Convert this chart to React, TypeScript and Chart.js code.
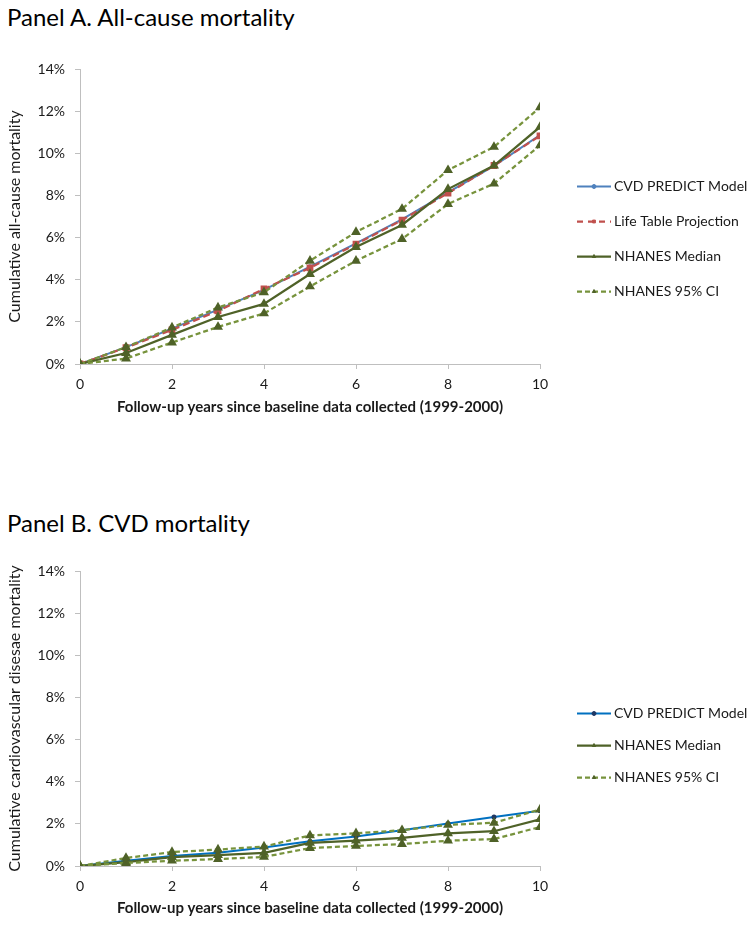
import React, { useEffect, useRef } from 'react';
import { Chart, registerables } from 'chart.js';
import { drawPoint } from 'chart.js/helpers';

Chart.register(...registerables);

// ---------- data ----------
const YEARS = [0, 1, 2, 3, 4, 5, 6, 7, 8, 9, 10];

// Panel A. All-cause mortality (%)
const A_CVD_PREDICT = [0, 0.8, 1.68, 2.58, 3.52, 4.62, 5.72, 6.86, 8.14, 9.4, 10.86];
const A_LIFE_TABLE = [0, 0.78, 1.62, 2.52, 3.56, 4.56, 5.69, 6.83, 8.11, 9.42, 10.83];
const A_NHANES_MEDIAN = [0, 0.52, 1.38, 2.23, 2.85, 4.27, 5.55, 6.6, 8.3, 9.42, 11.25];
const A_NHANES_UPPER = [0, 0.8, 1.73, 2.68, 3.4, 4.9, 6.26, 7.36, 9.2, 10.3, 12.18];
const A_NHANES_LOWER = [0, 0.26, 1.02, 1.76, 2.4, 3.68, 4.9, 5.93, 7.59, 8.56, 10.38];

// Panel B. CVD mortality (%)
const B_CVD_PREDICT = [0, 0.25, 0.47, 0.63, 0.88, 1.17, 1.4, 1.7, 2.02, 2.32, 2.62];
const B_NHANES_MEDIAN = [0, 0.18, 0.42, 0.52, 0.62, 1.1, 1.2, 1.33, 1.55, 1.65, 2.22];
const B_NHANES_UPPER = [0, 0.38, 0.66, 0.78, 0.92, 1.45, 1.55, 1.7, 1.95, 2.05, 2.68];
const B_NHANES_LOWER = [0, 0.14, 0.25, 0.33, 0.43, 0.85, 0.95, 1.04, 1.2, 1.28, 1.85];

const X_MIN = 0;
const X_MAX = 10;
const X_STEP = 2;
const Y_MIN = 0;
const Y_MAX = 14;
const Y_STEP = 2;

const TITLE_A = 'Panel A. All-cause mortality';
const TITLE_B = 'Panel B. CVD mortality';
const X_TITLE = 'Follow-up years since baseline data collected (1999-2000)';
const Y_TITLE_A = 'Cumulative all-cause mortality';
const Y_TITLE_B = 'Cumulative cardiovascular disesae mortality';

const FONT = 'Lato, "Open Sans", sans-serif';
const AXIS_GRAY = '#bfbfbf';
const TEXT = '#1a1a1a';

const toPoints = (vals: number[]) => YEARS.map((x, i) => ({ x, y: vals[i] }));

// ---------- custom legend ----------
const customLegend = {
  id: 'customLegend',
  afterDraw(chart: any, _args: any, opts: any) {
    const { ctx, chartArea } = chart;
    const items = chart.data.datasets.filter((d: any) => !d.hideInLegend);
    const n = items.length;
    const cy0 =
      (chartArea.top + chartArea.bottom) / 2 + opts.offsetY - ((n - 1) * opts.spacing) / 2;
    const x0 = chartArea.right + opts.gapX;
    ctx.save();
    items.forEach((ds: any, i: number) => {
      const y = Math.round(cy0 + i * opts.spacing) + 0.5;
      ctx.beginPath();
      ctx.setLineDash(ds.legendDash || ds.borderDash || []);
      ctx.strokeStyle = ds.borderColor;
      ctx.lineWidth = ds.borderWidth;
      ctx.moveTo(x0, y);
      ctx.lineTo(x0 + opts.lineLength, y);
      ctx.stroke();
      ctx.setLineDash([]);
      ctx.fillStyle = ds.pointBackgroundColor;
      ctx.strokeStyle = ds.pointBorderColor;
      ctx.lineWidth = 1;
      drawPoint(
        ctx,
        { pointStyle: ds.pointStyle, radius: opts.markerRadius, borderWidth: 1, rotation: 0 },
        x0 + opts.lineLength / 2,
        y
      );
      ctx.fillStyle = TEXT;
      ctx.font = `${opts.fontSize}px ${FONT}`;
      ctx.textBaseline = 'middle';
      ctx.textAlign = 'left';
      ctx.fillText(ds.label, x0 + opts.lineLength + opts.textGap, y);
    });
    ctx.restore();
  },
};

function makeOptions(cfg: {
  yTitle: string;
  padTop: number;
  xHeight: number;
  xTitleBottom: number;
  legendSpacing: number;
  legendOffsetY: number;
}) {
  const gridCfg = {
    display: true,
    drawOnChartArea: false,
    drawTicks: true,
    tickLength: 5,
    color: AXIS_GRAY,
    lineWidth: 1,
  };
  return {
    responsive: true,
    maintainAspectRatio: false,
    animation: false as const,
    layout: { padding: { top: cfg.padTop, left: 0, right: 214, bottom: 0 } },
    plugins: {
      legend: { display: false },
      tooltip: { enabled: false },
      customLegend: {
        offsetY: cfg.legendOffsetY,
        spacing: cfg.legendSpacing,
        gapX: 37,
        lineLength: 34,
        textGap: 3,
        markerRadius: 2,
        fontSize: 14,
      },
    },
    scales: {
      x: {
        type: 'linear' as const,
        min: X_MIN,
        max: X_MAX,
        grid: gridCfg,
        border: { display: true, color: AXIS_GRAY, width: 1 },
        ticks: {
          stepSize: X_STEP,
          color: TEXT,
          padding: 7,
          font: { family: FONT, size: 14 },
          maxRotation: 0,
        },
        title: {
          display: true,
          text: X_TITLE,
          color: TEXT,
          font: { family: FONT, size: 15, weight: 'bold' as const },
          padding: { top: 0, bottom: cfg.xTitleBottom },
        },
        afterFit: (s: any) => {
          s.height = cfg.xHeight;
        },
      },
      y: {
        type: 'linear' as const,
        min: Y_MIN,
        max: Y_MAX,
        grid: gridCfg,
        border: { display: true, color: AXIS_GRAY, width: 1 },
        ticks: {
          stepSize: Y_STEP,
          color: TEXT,
          padding: 10,
          font: { family: FONT, size: 14 },
          callback: (v: any) => `${v}%`,
        },
        title: {
          display: true,
          text: cfg.yTitle,
          color: TEXT,
          font: { family: FONT, size: 16 },
          padding: { top: 5, bottom: 0 },
        },
        afterFit: (s: any) => {
          s.width = 80;
        },
      },
    },
  };
}

const ciStyle = (color: string) => ({
  borderColor: color,
  backgroundColor: color,
  pointBackgroundColor: '#4F6228',
  pointBorderColor: '#4F6228',
  borderWidth: 2.25,
  borderDash: [5, 3],
  pointStyle: 'triangle',
  pointRadius: 3.5,
});

function datasetsA() {
  return [
    {
      label: 'CVD PREDICT Model',
      data: toPoints(A_CVD_PREDICT),
      borderColor: '#4F81BD',
      backgroundColor: '#4F81BD',
      pointBackgroundColor: '#4F81BD',
      pointBorderColor: '#4F81BD',
      borderWidth: 2,
      pointStyle: 'circle',
      pointRadius: 1.5,
      order: 5,
    },
    {
      label: 'Life Table Projection',
      data: toPoints(A_LIFE_TABLE),
      borderColor: '#C0504D',
      backgroundColor: '#C0504D',
      pointBackgroundColor: '#C0504D',
      pointBorderColor: '#C0504D',
      borderWidth: 2.25,
      borderDash: [7, 4],
      legendDash: [6, 5],
      pointStyle: 'rect',
      pointRadius: 3.2,
      order: 4,
    },
    {
      label: 'NHANES Median',
      data: toPoints(A_NHANES_MEDIAN),
      borderColor: '#4F6228',
      backgroundColor: '#4F6228',
      pointBackgroundColor: '#4F6228',
      pointBorderColor: '#4F6228',
      borderWidth: 2.25,
      pointStyle: 'triangle',
      pointRadius: 3.5,
      order: 3,
    },
    {
      label: 'NHANES 95% CI',
      data: toPoints(A_NHANES_UPPER),
      ...ciStyle('#77933C'),
      order: 2,
    },
    {
      label: 'NHANES 95% CI (lower)',
      hideInLegend: true,
      data: toPoints(A_NHANES_LOWER),
      ...ciStyle('#77933C'),
      order: 1,
    },
  ];
}

function datasetsB() {
  return [
    {
      label: 'CVD PREDICT Model',
      data: toPoints(B_CVD_PREDICT),
      borderColor: '#0070C0',
      backgroundColor: '#0070C0',
      pointBackgroundColor: '#1F3864',
      pointBorderColor: '#1F3864',
      borderWidth: 2,
      pointStyle: 'circle',
      pointRadius: 1.5,
      order: 4,
    },
    {
      label: 'NHANES Median',
      data: toPoints(B_NHANES_MEDIAN),
      borderColor: '#4F6228',
      backgroundColor: '#4F6228',
      pointBackgroundColor: '#4F6228',
      pointBorderColor: '#4F6228',
      borderWidth: 2.25,
      pointStyle: 'triangle',
      pointRadius: 3.5,
      order: 3,
    },
    {
      label: 'NHANES 95% CI',
      data: toPoints(B_NHANES_UPPER),
      ...ciStyle('#77933C'),
      order: 2,
    },
    {
      label: 'NHANES 95% CI (lower)',
      hideInLegend: true,
      data: toPoints(B_NHANES_LOWER),
      ...ciStyle('#77933C'),
      order: 1,
    },
  ];
}

function LineChart(props: { datasets: any[]; options: any }) {
  const ref = useRef<HTMLCanvasElement | null>(null);
  useEffect(() => {
    if (!ref.current) return;
    const chart = new Chart(ref.current, {
      type: 'line',
      data: { datasets: props.datasets },
      options: props.options,
      plugins: [customLegend],
    });
    return () => chart.destroy();
  }, []);
  return <canvas ref={ref} />;
}

const titleStyle: React.CSSProperties = {
  position: 'absolute',
  left: 7,
  fontFamily: FONT,
  fontSize: 24,
  lineHeight: '24px',
  color: '#000',
  whiteSpace: 'nowrap',
  margin: 0,
};

export default function App() {
  return (
    <div style={{ position: 'absolute', left: 0, top: 0, width: 754, height: 925, background: '#fff' }}>
      <div style={{ ...titleStyle, top: 5 }}>{TITLE_A}</div>
      <div style={{ position: 'absolute', left: 0, top: 40, width: 754, height: 400 }}>
        <LineChart
          datasets={datasetsA()}
          options={makeOptions({
            yTitle: Y_TITLE_A,
            padTop: 29,
            xHeight: 76,
            xTitleBottom: 24,
            legendSpacing: 35,
            legendOffsetY: 22,
          })}
        />
      </div>
      <div style={{ ...titleStyle, top: 511 }}>{TITLE_B}</div>
      <div style={{ position: 'absolute', left: 0, top: 540, width: 754, height: 385 }}>
        <LineChart
          datasets={datasetsB()}
          options={makeOptions({
            yTitle: Y_TITLE_B,
            padTop: 31,
            xHeight: 59,
            xTitleBottom: 8,
            legendSpacing: 32,
            legendOffsetY: 26,
          })}
        />
      </div>
    </div>
  );
}
